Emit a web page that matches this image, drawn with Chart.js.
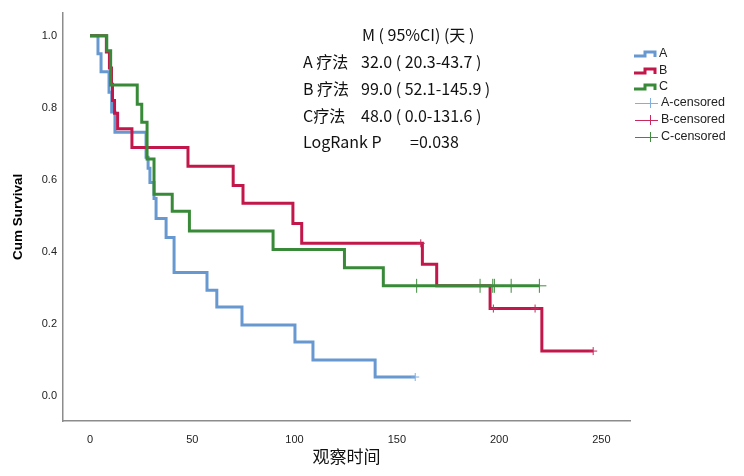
<!DOCTYPE html>
<html>
<head>
<meta charset="utf-8">
<script src="https://cdn.jsdelivr.net/npm/chart.js@4/dist/chart.umd.min.js"></script>
<style>
  html, body { margin: 0; padding: 0; background: #fff; }
  #wrap { width: 744px; height: 476px; position: relative; }
</style>
</head>
<body>
<div id="wrap"><canvas id="myChart"></canvas></div>
<script>
// 各組事件時間(天) 與 事件後的累積存活率
const timeA = [0, 3.9, 5.4, 9.3, 10.6, 12.2, 27.4, 28.4, 29.3, 31.3, 32.3, 37.2, 41.1, 57.2, 62, 74.3, 100.2, 109, 139.4, 159];
const survA = [1, 0.95, 0.90, 0.843, 0.788, 0.732, 0.663, 0.632, 0.593, 0.548, 0.493, 0.44, 0.343, 0.294, 0.247, 0.197, 0.15, 0.10, 0.053, 0.053];
const censorA = [159];

const timeB = [0, 8, 9.5, 10.5, 11, 12, 13.5, 20.5, 47.9, 70, 74.8, 99.2, 103.5, 162.5, 169.5, 195.6, 220.9, 246];
const survB = [1, 0.955, 0.91, 0.865, 0.82, 0.785, 0.742, 0.69, 0.638, 0.584, 0.535, 0.479, 0.424, 0.366, 0.306, 0.243, 0.125, 0.125];
const censorB = [161.7, 197.2, 217.6, 246];

const timeC = [0, 8.2, 10.1, 23.1, 25.3, 27.9, 31.3, 40.2, 48.6, 89.5, 124.4, 143.4, 219.7];
const survC = [1, 0.958, 0.863, 0.81, 0.76, 0.658, 0.56, 0.513, 0.458, 0.407, 0.356, 0.306, 0.306];
const censorC = [159.7, 190.7, 196.9, 197.7, 205.9, 219.7];

const xTicks = [0, 50, 100, 150, 200, 250];
const yTicks = [0, 0.2, 0.4, 0.6, 0.8, 1.0];

const groupLabels = ["A", "B", "C"];
const statRows = [
  ["", "M ( 95%CI) (天 )"],
  ["A 疗法", "32.0 ( 20.3-43.7 )"],
  ["B 疗法", "99.0 ( 52.1-145.9 )"],
  ["C疗法", "48.0 ( 0.0-131.6 )"],
  ["LogRank P", "=0.038"],
];

const colors = { A: "#6798d0", B: "#c2174a", C: "#388a38" };
const censorColors = { A: "#7fb0e0", B: "#c9285c", C: "#3f8c3f" };

const cjk = '"Noto Sans CJK SC", "Noto Sans", sans-serif';
const latin = '"Liberation Sans", Arial, sans-serif';

function toPoints(ts, ss) {
  return ts.map((t, i) => ({ x: t, y: ss[i] }));
}
// 取設限時間點當下的存活率
function survAt(ts, ss, t) {
  let s = 1;
  ts.forEach((d, i) => { if (d <= t) s = ss[i]; });
  return s;
}
function censorPoints(cs, ts, ss) {
  return cs.map((t) => ({ x: t, y: survAt(ts, ss, t) }));
}

function curve(label, ts, ss, order) {
  return {
    label: label,
    data: toPoints(ts, ss),
    stepped: true,
    borderColor: colors[label],
    borderWidth: 3,
    pointRadius: 0,
    fill: false,
    order: order,
  };
}
function censorSet(label, cs, ts, ss, r) {
  return {
    label: label + "-censored",
    data: censorPoints(cs, ts, ss),
    showLine: false,
    pointStyle: "cross",
    pointRadius: r,
    pointBorderWidth: 1,
    borderColor: censorColors[label],
    backgroundColor: censorColors[label],
    order: 0,
  };
}

// 圖例 + 中位數文字
const overlayPlugin = {
  id: "overlay",
  afterDraw(chart) {
    const ctx = chart.ctx;
    ctx.save();
    // stats text
    ctx.fillStyle = "#111";
    ctx.font = "16px " + cjk;
    ctx.textBaseline = "middle";
    const rowY = [35, 62, 89, 116, 142];
    statRows.forEach((r, i) => {
      if (i === 0) {
        ctx.fillText(r[1], 362, rowY[i]);
      } else if (i === 4) {
        ctx.fillText(r[0], 303, rowY[i]);
        ctx.fillText(r[1], 410, rowY[i]);
      } else {
        ctx.fillText(r[0], 303, rowY[i]);
        ctx.fillText(r[1], 361, rowY[i]);
      }
    });

    // legend
    const legY = [54, 71, 87, 103, 120, 137];
    ctx.font = "12.5px " + latin;
    ctx.fillStyle = "#222";
    groupLabels.forEach((g, i) => {
      const y = legY[i];
      ctx.strokeStyle = colors[g];
      ctx.lineWidth = 3;
      ctx.beginPath();
      ctx.moveTo(634, y + 2);
      ctx.lineTo(645, y + 2);
      ctx.lineTo(645, y - 2);
      ctx.lineTo(655, y - 2);
      ctx.lineTo(655, y + 3);
      ctx.stroke();
      ctx.fillText(g, 659, y);
    });
    groupLabels.forEach((g, i) => {
      const y = legY[i + 3];
      ctx.strokeStyle = censorColors[g];
      ctx.lineWidth = 1;
      ctx.beginPath();
      ctx.moveTo(635, y + 0.5);
      ctx.lineTo(658, y + 0.5);
      ctx.moveTo(650.5, y - 5);
      ctx.lineTo(650.5, y + 5);
      ctx.stroke();
      ctx.fillText(g + "-censored", 661, y);
    });
    ctx.restore();
  },
};

const config = {
  type: "line",
  data: {
    datasets: [
      curve("A", timeA, survA, 3),
      curve("B", timeB, survB, 2),
      curve("C", timeC, survC, 1),
      censorSet("A", censorA, timeA, survA, 4),
      censorSet("B", censorB, timeB, survB, 4),
      censorSet("C", censorC, timeC, survC, 7),
    ],
  },
  options: {
    responsive: false,
    animation: false,
    layout: { padding: { top: 12, right: 114, left: 0, bottom: 0 } },
    plugins: { legend: { display: false }, tooltip: { enabled: false } },
    scales: {
      x: {
        type: "linear",
        min: -13.2,
        max: 264,
        afterBuildTicks: (axis) => { axis.ticks = xTicks.map((v) => ({ value: v })); },
        afterFit: (axis) => { axis.height = 55; },
        grid: { display: false, drawTicks: false },
        border: { display: true, color: "#8c8c8c", width: 1.5 },
        ticks: { padding: 12, color: "#222", font: { size: 11, family: latin }, maxRotation: 0 },
        title: { display: true, text: "观察时间", color: "#111", font: { size: 17, family: cjk }, padding: { bottom: 9 } },
      },
      y: {
        type: "linear",
        min: -0.069,
        max: 1.064,
        afterBuildTicks: (axis) => { axis.ticks = yTicks.map((v) => ({ value: v })); },
        afterFit: (axis) => { axis.width = 63; },
        grid: { display: false, drawTicks: false },
        border: { display: true, color: "#8c8c8c", width: 1.5 },
        ticks: { padding: 6, color: "#222", font: { size: 11, family: latin }, callback: (v) => v.toFixed(1) },
        title: { display: true, text: "Cum Survival", color: "#000", font: { size: 13.5, weight: "bold", family: latin }, padding: { top: 10 } },
      },
    },
  },
  plugins: [overlayPlugin],
};

const canvas = document.getElementById("myChart");
canvas.width = 744;
canvas.height = 476;
new Chart(canvas, config);
</script>
</body>
</html>
